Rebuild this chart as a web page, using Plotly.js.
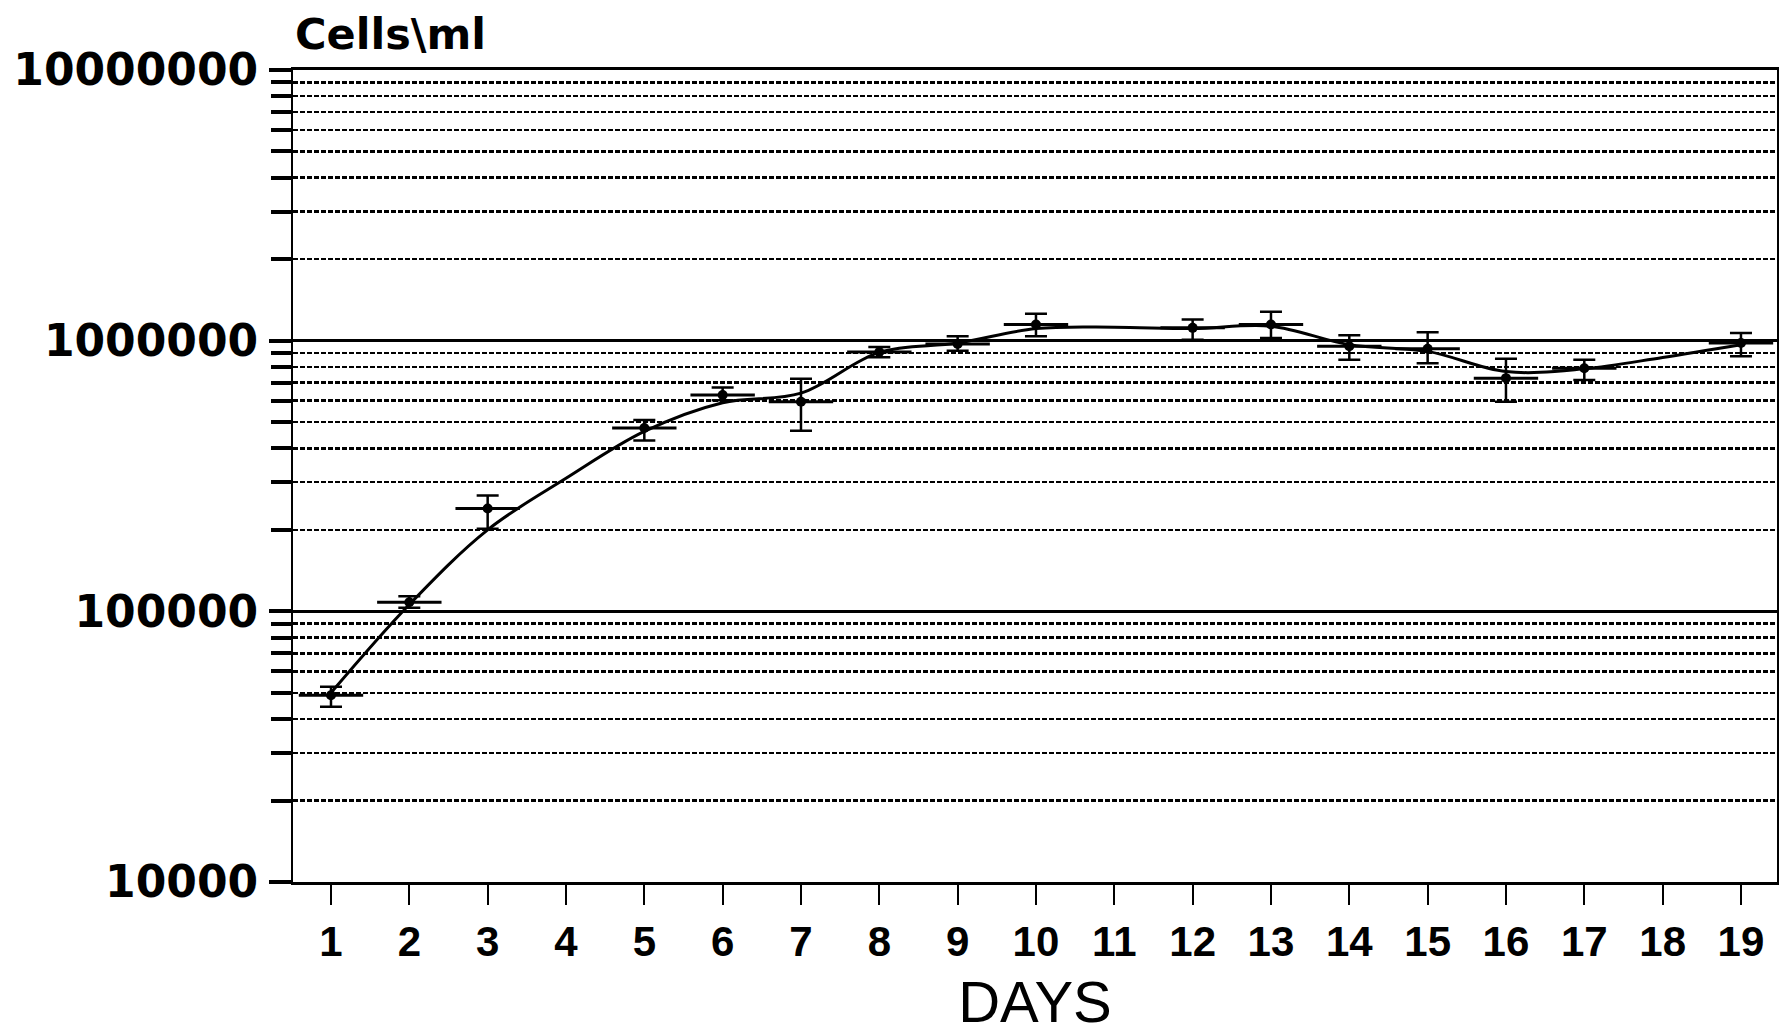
<!DOCTYPE html>
<html>
<head>
<meta charset="utf-8">
<script src="https://cdn.plot.ly/plotly-3.0.1.min.js"></script>
<style>
  html, body { margin: 0; padding: 0; background: #ffffff; }
  #chart { width: 1783px; height: 1034px; }
</style>
</head>
<body>
<div id="chart"></div>
<script>
// ---- data ----
const curveDays = [1, 2, 3, 4, 5, 6, 7, 8, 9, 10, 11, 12, 13, 14, 15, 16, 17, 18, 19];
const curveCells = [50000, 106000, 200000, 310000, 462000, 590000, 640000, 905000, 980000, 1108000,
                    1122000, 1108000, 1131000, 966000, 913000, 769000, 787000, 867000, 966000];

const pointDays  = [1, 2, 3, 5, 6, 7, 8, 9, 10, 12, 13, 14, 15, 16, 17, 19];
const pointCells = [49000, 108000, 240000, 476000, 630000, 595000, 908000, 972000,
                    1147000, 1115000, 1147000, 953000, 934000, 727000, 791000, 980000];
const errPlus    = [3600, 5700, 28000, 33000, 41000, 128000, 40000, 66000,
                    110000, 82000, 132000, 94000, 140000, 130000, 59000, 88000];
const errMinus   = [4600, 5000, 38000, 48000, 27000, 130000, 40000, 54000,
                    109000, 107000, 124000, 103000, 108000, 132000, 75000, 105000];

const yMajorVals = [10000, 100000, 1000000, 10000000];
const yMajorText = ["10000", "100000", "1000000", "10000000"];
const yMinorVals = [20000, 30000, 40000, 50000, 60000, 70000, 80000, 90000,
                    200000, 300000, 400000, 500000, 600000, 700000, 800000, 900000,
                    2000000, 3000000, 4000000, 5000000, 6000000, 7000000, 8000000, 9000000];
const xTickVals = [1, 2, 3, 4, 5, 6, 7, 8, 9, 10, 11, 12, 13, 14, 15, 16, 17, 18, 19];
const xTickText = ["1", "2", "3", "4", "5", "6", "7", "8", "9", "10", "11", "12", "13", "14", "15", "16", "17", "18", "19"];
const xTitle = "DAYS";
const yTitle = "Cells\\ml";

// ---- traces ----
const curve = {
  x: curveDays, y: curveCells, type: "scatter", mode: "lines",
  line: { color: "#000000", width: 3, shape: "spline", smoothing: 1 },
  hoverinfo: "skip", showlegend: false
};
const points = {
  x: pointDays, y: pointCells, type: "scatter", mode: "markers",
  marker: { symbol: "circle", size: 10, color: "#000000" },
  error_y: { type: "data", symmetric: false, array: errPlus, arrayminus: errMinus,
             color: "#000000", thickness: 2.5, width: 11 },
  showlegend: false
};
const bars = {
  x: pointDays, y: pointCells, type: "scatter", mode: "markers",
  marker: { symbol: "line-ew", size: 46, color: "#000000",
            line: { color: "#000000", width: 3 } },
  hoverinfo: "skip", showlegend: false
};

const layout = {
  width: 1783, height: 1034,
  paper_bgcolor: "#ffffff", plot_bgcolor: "#ffffff",
  margin: { l: 293, r: 6, t: 70, b: 152 },
  showlegend: false,
  xaxis: {
    range: [0.515, 19.46],
    tickmode: "array", tickvals: xTickVals, ticktext: xTickText,
    ticks: "outside", ticklen: 20, tickwidth: 2, tickcolor: "#000000",
    ticklabelstandoff: 1,
    showgrid: false, zeroline: false,
    showline: true, linecolor: "#000000", linewidth: 3, mirror: true,
    tickfont: { family: "Liberation Sans, Arial, sans-serif", size: 42, color: "#000000", weight: "bold" },
    title: { text: xTitle, standoff: 42,
             font: { family: "Liberation Sans, Arial, sans-serif", size: 58, color: "#000000" } },
    automargin: false
  },
  yaxis: {
    type: "log", range: [4, 7],
    tickmode: "array", tickvals: yMajorVals, ticktext: yMajorText,
    ticks: "outside", ticklen: 22, tickwidth: 4, tickcolor: "#000000",
    ticklabelstandoff: 2,
    showgrid: true, gridcolor: "#000000", gridwidth: 3,
    zeroline: false,
    showline: true, linecolor: "#000000", linewidth: 2, mirror: true,
    tickfont: { family: "DejaVu Sans, sans-serif", size: 44, color: "#000000", weight: "bold" },
    minor: {
      tickmode: "array", tickvals: yMinorVals,
      ticks: "outside", ticklen: 20, tickwidth: 4, tickcolor: "#000000",
      showgrid: true, gridcolor: "#000000", gridwidth: 2.5, griddash: "5px,2px"
    },
    automargin: false
  },
  annotations: [{
    text: yTitle, xref: "paper", yref: "paper", x: 0, y: 1.044,
    xanchor: "left", yanchor: "middle", showarrow: false,
    font: { family: "DejaVu Sans, sans-serif", size: 43, color: "#000000", weight: "bold" }
  }]
};

Plotly.newPlot("chart", [curve, points, bars], layout, { staticPlot: true, displayModeBar: false });
</script>
</body>
</html>
